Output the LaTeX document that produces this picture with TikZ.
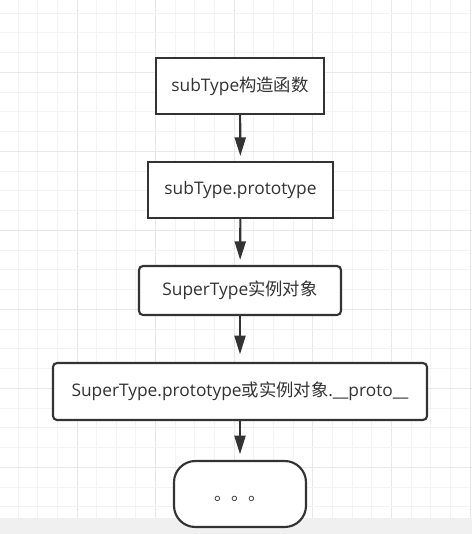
\documentclass[tikz,border=0pt]{standalone}
\usepackage{fontspec}
\setmainfont{Open Sans}
\newfontfamily\cjk{Noto Sans CJK SC}
\usetikzlibrary{positioning,arrows.meta}
\definecolor{boxline}{HTML}{333333}
\definecolor{txt}{HTML}{333333}
\definecolor{gridminor}{HTML}{F3F3F3}
\definecolor{gridmajor}{HTML}{E8E8E8}
\definecolor{barfill}{HTML}{F0F0F0}

\begin{document}
\begin{tikzpicture}[x=0.75pt,y=-0.75pt,
        box/.style = {draw=boxline, line width=1.6pt, fill=white, text=txt,
            font=\fontsize{13}{15}\selectfont, inner sep=0pt, outer sep=0pt},
        flow/.style = {-{Triangle[length=14pt,width=8.25pt]}, draw=boxline, line width=1.6pt}]
            \useasboundingbox (0,0) rectangle (472,534);
            % grid
            \foreach \i in {0,...,23} {
                \pgfmathsetmacro\gx{18.05+19.65*\i}
                \pgfmathtruncatemacro\major{mod(\i+1,4)==0}
                \ifnum\major=1 \def\gc{gridmajor}\else \def\gc{gridminor}\fi
                \draw[\gc, line width=0.75pt] (\gx,0) -- (\gx,518);
            }
            \foreach \j in {0,...,25} {
                \pgfmathsetmacro\gy{13.05+19.75*\j}
                \pgfmathtruncatemacro\major{mod(\j+1,4)==0}
                \ifnum\major=1 \def\gc{gridmajor}\else \def\gc{gridminor}\fi
                \draw[\gc, line width=0.75pt] (0,\gy) -- (472,\gy);
            }
            \fill[barfill] (0,518) rectangle (472,534);
            % boxes
            \node[box, minimum width=126pt, minimum height=42pt] (ctor) at (240,86) {subType{\cjk 构造函数}};
            \node[box, minimum width=138.75pt, minimum height=42pt] (proto) at (240.5,190) {subType.prototype};
            \node[box, rounded corners=3pt, minimum width=151.5pt, minimum height=36.75pt] (inst) at (240,290.5) {SuperType{\cjk 实例对象}};
            \node[box, rounded corners=3pt, minimum width=280.5pt, minimum height=42.75pt] (superproto) at (240,391.5) {SuperType.prototype{\cjk 或实例对象}.\_\_proto\_\_};
            \node[box, rounded corners=16pt, minimum width=99pt, minimum height=49.5pt] (more) at (240,494) {\raisebox{-5pt}[0pt][0pt]{\cjk 。。。}};
            % arrows
            \draw[flow, shorten >=4.5pt] (ctor) -- (proto);
            \draw[flow, shorten >=4.5pt] (proto) -- (inst);
            \draw[flow, shorten >=6.5pt] (inst) -- (superproto);
            \draw[flow, shorten >=5pt] (superproto) -- (more);
        \end{tikzpicture}
\end{document}
